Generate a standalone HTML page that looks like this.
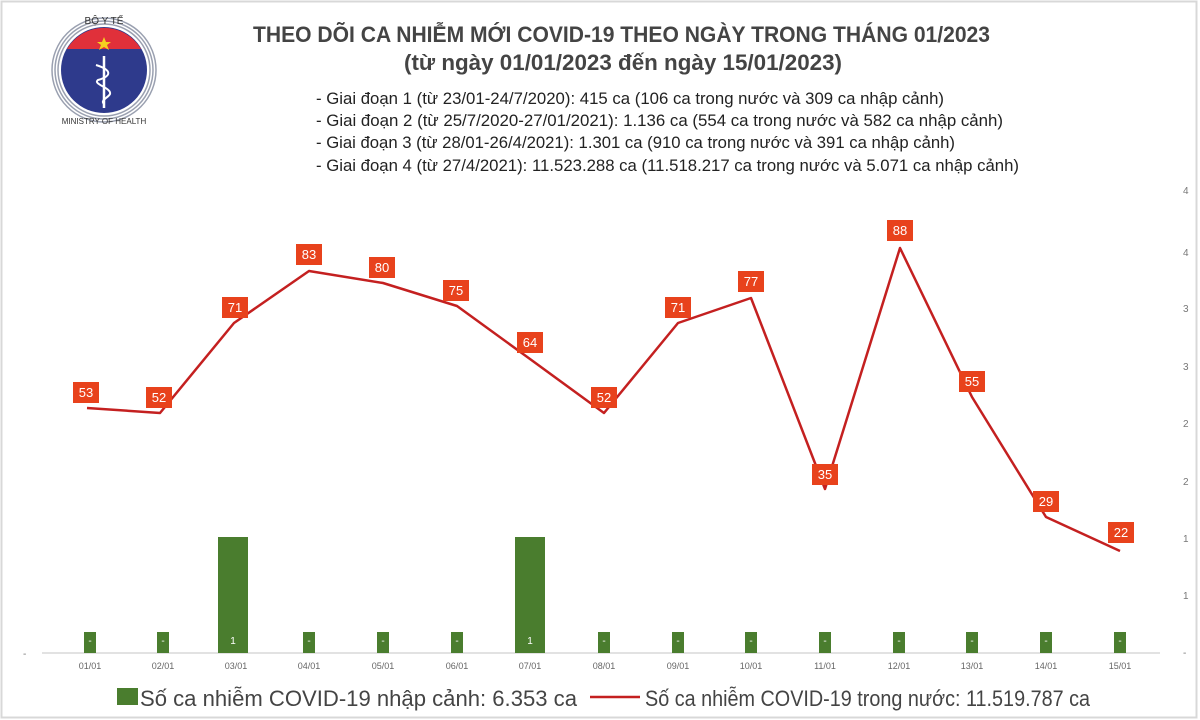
<!DOCTYPE html>
<html><head><meta charset="utf-8"><style>
body{margin:0;background:#fff;}
svg{display:block;}
text{font-family:"Liberation Sans Narrow","Liberation Sans",sans-serif;}
</style></head><body>
<svg width="1200" height="720" viewBox="0 0 1200 720" xmlns="http://www.w3.org/2000/svg">
<rect x="0" y="0" width="1200" height="720" fill="#fff"/>
<rect x="1.5" y="1.5" width="1195" height="716" fill="none" stroke="#d8d8d8" stroke-width="2"/>
<!-- logo -->
<g transform="translate(104,70)">
  <circle r="52" fill="none" stroke="#9aa0b0" stroke-width="1.5"/>
  <circle r="49" fill="none" stroke="#9aa0b0" stroke-width="1.5"/>
  <circle r="46" fill="none" stroke="#9aa0b0" stroke-width="1.5"/>
  <circle r="43" fill="#2e3a8c"/>
  <path d="M-37,-21 A43,43 0 0 1 37,-21 Z" fill="#e0303a"/>
  <polygon points="0,-33 2,-28 7,-28 3,-25 5,-20 0,-23 -5,-20 -3,-25 -7,-28 -2,-28" fill="#f5d020"/>
  <line x1="0" y1="-14" x2="0" y2="38" stroke="#fff" stroke-width="2.5"/>
  <path d="M-8,-5 C8,0 8,6 -6,10 C-12,14 8,18 6,24 C4,28 -4,30 0,34" fill="none" stroke="#fff" stroke-width="2"/>
  <text x="0" y="-46" font-size="10" text-anchor="middle" fill="#333">BỘ Y TẾ</text>
  <text x="0" y="54" font-size="8" text-anchor="middle" fill="#333">MINISTRY OF HEALTH</text>
</g>
<!-- titles -->
<g fill="#444" font-weight="bold">
<text x="253" y="42" font-size="22" textLength="737" lengthAdjust="spacingAndGlyphs">THEO DÕI CA NHIỄM MỚI COVID-19 THEO NGÀY TRONG THÁNG 01/2023</text>
<text x="404" y="70" font-size="22" textLength="438" lengthAdjust="spacingAndGlyphs">(từ ngày 01/01/2023 đến ngày 15/01/2023)</text>
</g>
<g fill="#222" font-size="17">
<text x="316" y="104" textLength="628" lengthAdjust="spacingAndGlyphs">- Giai đoạn 1 (từ 23/01-24/7/2020): 415 ca (106 ca trong nước và 309 ca nhập cảnh)</text>
<text x="316" y="126" textLength="687" lengthAdjust="spacingAndGlyphs">- Giai đoạn 2 (từ 25/7/2020-27/01/2021): 1.136 ca (554 ca trong nước và 582 ca nhập cảnh)</text>
<text x="316" y="148" textLength="639" lengthAdjust="spacingAndGlyphs">- Giai đoạn 3 (từ 28/01-26/4/2021): 1.301 ca (910 ca trong nước và 391 ca nhập cảnh)</text>
<text x="316" y="171" textLength="703" lengthAdjust="spacingAndGlyphs">- Giai đoạn 4 (từ 27/4/2021): 11.523.288 ca (11.518.217 ca trong nước và 5.071 ca nhập cảnh)</text>
</g>
<!-- right axis -->
<g fill="#777" font-size="10" font-family="Liberation Sans,sans-serif">
<text x="1183" y="194">4</text><text x="1183" y="256">4</text>
<text x="1183" y="312">3</text><text x="1183" y="370">3</text>
<text x="1183" y="427">2</text><text x="1183" y="485">2</text>
<text x="1183" y="542">1</text><text x="1183" y="599">1</text>
<text x="1183" y="656">-</text><text x="23" y="657">-</text>
</g>
<line x1="42" y1="653" x2="1160" y2="653" stroke="#d9d9d9" stroke-width="1.5"/>
<!-- bars -->
<g fill="#4a7d2e">
<rect x="84" y="632" width="12" height="21"/>
<rect x="157" y="632" width="12" height="21"/>
<rect x="218" y="537" width="30" height="116"/>
<rect x="303" y="632" width="12" height="21"/>
<rect x="377" y="632" width="12" height="21"/>
<rect x="451" y="632" width="12" height="21"/>
<rect x="515" y="537" width="30" height="116"/>
<rect x="598" y="632" width="12" height="21"/>
<rect x="672" y="632" width="12" height="21"/>
<rect x="745" y="632" width="12" height="21"/>
<rect x="819" y="632" width="12" height="21"/>
<rect x="893" y="632" width="12" height="21"/>
<rect x="966" y="632" width="12" height="21"/>
<rect x="1040" y="632" width="12" height="21"/>
<rect x="1114" y="632" width="12" height="21"/>
</g>
<g fill="#fff" font-size="10" text-anchor="middle" font-family="Liberation Sans,sans-serif">
<text x="90" y="644">-</text><text x="163" y="644">-</text><text x="233" y="644">1</text>
<text x="309" y="644">-</text><text x="383" y="644">-</text><text x="457" y="644">-</text>
<text x="530" y="644">1</text><text x="604" y="644">-</text><text x="678" y="644">-</text>
<text x="751" y="644">-</text><text x="825" y="644">-</text><text x="899" y="644">-</text>
<text x="972" y="644">-</text><text x="1046" y="644">-</text><text x="1120" y="644">-</text>
</g>
<g fill="#666" font-size="9" text-anchor="middle" font-family="Liberation Sans,sans-serif">
<text x="90" y="669">01/01</text><text x="163" y="669">02/01</text><text x="236" y="669">03/01</text>
<text x="309" y="669">04/01</text><text x="383" y="669">05/01</text><text x="457" y="669">06/01</text>
<text x="530" y="669">07/01</text><text x="604" y="669">08/01</text><text x="678" y="669">09/01</text>
<text x="751" y="669">10/01</text><text x="825" y="669">11/01</text><text x="899" y="669">12/01</text>
<text x="972" y="669">13/01</text><text x="1046" y="669">14/01</text><text x="1120" y="669">15/01</text>
</g>
<!-- line -->
<polyline fill="none" stroke="#c42020" stroke-width="2.5" stroke-linejoin="round" points="87,408 160,413 234,323 309,271 383,283 457,306 530,359 604,413 678,323 751,298 825,489 900,248 972,397 1046,517 1120,551"/>
<g font-size="13" text-anchor="middle" font-family="Liberation Sans,sans-serif">
<g fill="#e8421c">
<rect x="73" y="382" width="26" height="21"/><rect x="146" y="387" width="26" height="21"/>
<rect x="222" y="297" width="26" height="21"/><rect x="296" y="244" width="26" height="21"/>
<rect x="369" y="257" width="26" height="21"/><rect x="443" y="280" width="26" height="21"/>
<rect x="517" y="332" width="26" height="21"/><rect x="591" y="387" width="26" height="21"/>
<rect x="665" y="297" width="26" height="21"/><rect x="738" y="271" width="26" height="21"/>
<rect x="812" y="464" width="26" height="21"/><rect x="887" y="220" width="26" height="21"/>
<rect x="959" y="371" width="26" height="21"/><rect x="1033" y="491" width="26" height="21"/>
<rect x="1108" y="522" width="26" height="21"/>
</g>
<g fill="#fff">
<text x="86" y="397">53</text><text x="159" y="402">52</text><text x="235" y="312">71</text>
<text x="309" y="259">83</text><text x="382" y="272">80</text><text x="456" y="295">75</text>
<text x="530" y="347">64</text><text x="604" y="402">52</text><text x="678" y="312">71</text>
<text x="751" y="286">77</text><text x="825" y="479">35</text><text x="900" y="235">88</text>
<text x="972" y="386">55</text><text x="1046" y="506">29</text><text x="1121" y="537">22</text>
</g></g>
<!-- legend -->
<rect x="117" y="688" width="21" height="17" fill="#4a7d2e"/>
<text x="140" y="706" font-size="22" fill="#444" font-family="Liberation Sans,sans-serif" textLength="437" lengthAdjust="spacingAndGlyphs">Số ca nhiễm COVID-19 nhập cảnh: 6.353 ca</text>
<line x1="590" y1="697" x2="640" y2="697" stroke="#c42020" stroke-width="2.5"/>
<text x="645" y="706" font-size="22" fill="#444" font-family="Liberation Sans,sans-serif" textLength="445" lengthAdjust="spacingAndGlyphs">Số ca nhiễm COVID-19 trong nước: 11.519.787 ca</text>
</svg>
</body></html>
